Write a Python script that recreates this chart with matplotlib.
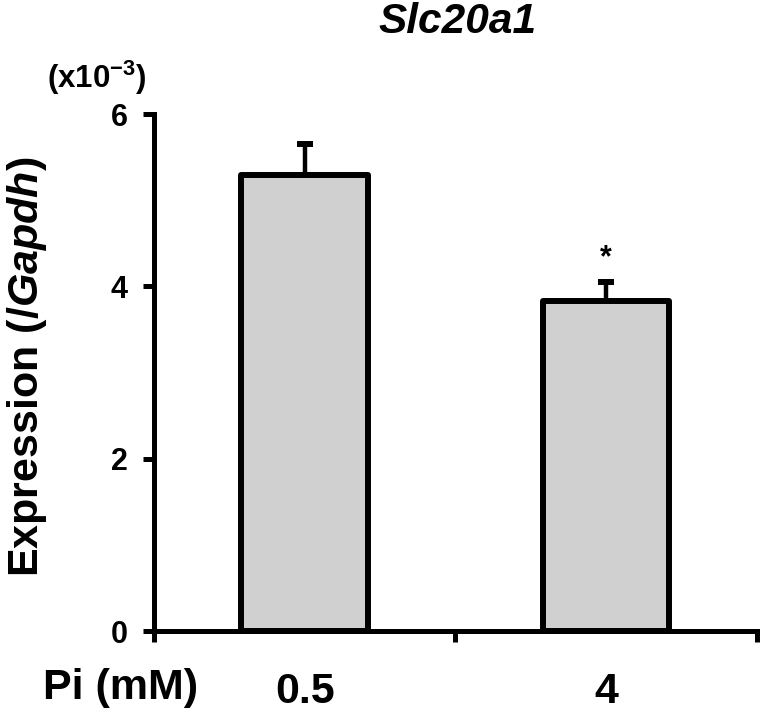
import matplotlib
matplotlib.use("Agg")
import matplotlib.pyplot as plt
import numpy as np

# data (units of 1e-3)
groups = ["0.5", "4"]
expression = [5.29, 3.83]
sem = [0.36, 0.22]
signif = ["", "*"]

plt.rcParams['font.family'] = ['Liberation Sans', 'DejaVu Sans']
plt.rcParams['font.weight'] = 'bold'
plt.rcParams['mathtext.fontset'] = 'custom'
plt.rcParams['mathtext.rm'] = 'Liberation Sans:bold'
plt.rcParams['mathtext.it'] = 'Liberation Sans:italic:bold'
plt.rcParams['mathtext.bf'] = 'Liberation Sans:bold'

fig = plt.figure(figsize=(7.63, 7.14), dpi=100)
ax = fig.add_axes([0.2018, 0.1162, 0.7902, 0.7241])

x = np.arange(len(groups))
bars = ax.bar(x, expression, width=0.42, color="#d0d0d0", edgecolor="black",
              linewidth=4.3, zorder=2)
for b in bars:
    b.set_joinstyle("round")
ax.errorbar(x, expression, yerr=[np.zeros(len(sem)), sem], fmt="none",
            ecolor="black", elinewidth=3.2, capsize=6, capthick=4.3, zorder=1)
for xi, yi, ei, s in zip(x, expression, sem, signif):
    if s:
        ax.text(xi, yi + ei + 0.1, s, ha="center", va="bottom", fontsize=22,
                fontweight="bold")

ax.set_xlim(-0.5, 1.5)
ax.set_ylim(0, 6)
ax.set_yticks([0, 2, 4, 6])
ax.set_xticks(x)
ax.set_xticklabels(groups)
ax.set_xticks([-0.5, 0.5, 1.5], minor=True)
ax.tick_params(axis="x", which="major", length=0, pad=29.5, labelsize=31)
ax.tick_params(axis="x", which="minor", length=8, width=3.6, direction="out")
ax.tick_params(axis="y", length=8, width=3.6, direction="out", labelsize=22, pad=11)
for lab in ax.get_xticklabels() + ax.get_yticklabels():
    lab.set_fontweight("bold")

ax.spines["top"].set_visible(False)
ax.spines["right"].set_visible(False)
ax.spines["left"].set_linewidth(3.6)
ax.spines["bottom"].set_linewidth(3.6)

fig.text(0.056, 0.036, "Pi (mM)", fontsize=31, fontweight="bold", ha="left", va="center")
fig.text(0.035, 0.486, r"Expression (/$\mathit{Gapdh}$)", fontsize=31, fontweight="bold",
         rotation=90, ha="center", va="center")
fig.text(0.127, 0.891, r"(x10$^{-3}$)", fontsize=22.5, fontweight="bold", ha="center", va="center")
fig.text(0.6, 0.969, "Slc20a1", fontsize=30.5, fontweight="bold", fontstyle="italic",
         ha="center", va="center")

fig.savefig("out.png", dpi=100)
